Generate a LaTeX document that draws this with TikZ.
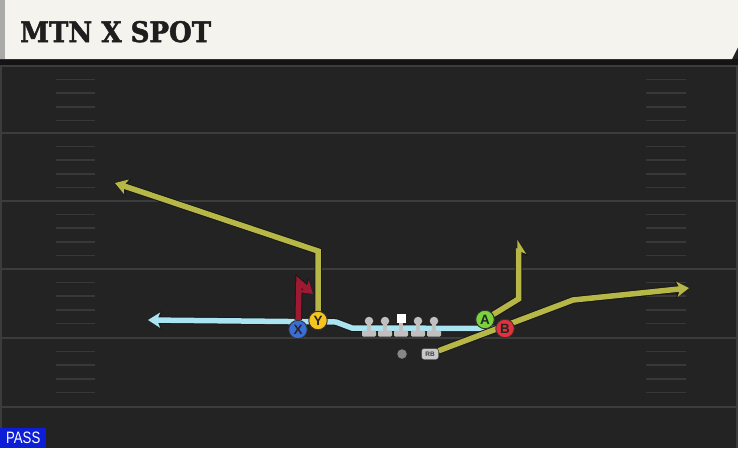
\documentclass[tikz,border=0pt]{standalone}
\usepackage{fontspec}
\usetikzlibrary{arrows.meta}
\newfontfamily\titlefont{DejaVu Serif Bold}[FakeBold=1.8]
\newfontfamily\labelfont{Liberation Sans}

\definecolor{fieldbg}{RGB}{35,35,35}
\definecolor{bandbg}{RGB}{20,20,20}
\definecolor{yardcol}{RGB}{60,60,60}
\definecolor{hashcol}{RGB}{56,56,56}
\definecolor{headerbg}{RGB}{245,243,237}
\definecolor{stripecol}{RGB}{170,170,168}
\definecolor{titleink}{RGB}{30,30,30}
\definecolor{routeolive}{RGB}{183,183,72}
\definecolor{routered}{RGB}{158,26,50}
\definecolor{motionblue}{RGB}{170,228,240}
\definecolor{xblue}{RGB}{58,110,214}
\definecolor{yyellow}{RGB}{247,196,30}
\definecolor{agreen}{RGB}{122,210,60}
\definecolor{bred}{RGB}{226,50,62}
\definecolor{linegrey}{RGB}{192,192,192}
\definecolor{qbgrey}{RGB}{135,135,135}
\definecolor{rbgrey}{RGB}{200,200,200}
\definecolor{passblue}{RGB}{12,30,214}

\pgfdeclarelayer{field}
\pgfdeclarelayer{routes}
\pgfsetlayers{field,routes,main}

\tikzset{
	player/.style={circle, draw=black!80, line width=0.9pt, fill=#1, minimum size=18.5pt, inner sep=0pt,
		font=\labelfont\bfseries\fontsize{13.5}{13.5}\selectfont, text=black!85},
	route/.style 2 args={draw=#1, line width=5.5pt, line join=miter,
		preaction={draw=black!90, line width=7.5pt, -{Stealth[length=14pt,width=18pt,inset=3.5pt,#2]}},
		-{Stealth[length=12pt,width=15pt,inset=3pt,#2]}},
	lineman/.style={circle, fill=linegrey, minimum size=8.5pt, inner sep=0pt},
	yardline/.style={draw=yardcol, line width=2pt},
	hashline/.style={draw=hashcol, line width=1.6pt},
}

\begin{document}
\begin{tikzpicture}[x=1pt, y=-1pt]
	\useasboundingbox (0,0) rectangle (738,448);

	\begin{pgfonlayer}{field}
		\fill[fieldbg] (0,0) rectangle (738,448);
		\fill[bandbg] (0,59) rectangle (738,65);
		\draw[yardcol, line width=1.5pt] (1,65) -- (1,448);
		\draw[yardcol, line width=1.5pt] (737,65) -- (737,448);
		\foreach \yl in {66,133,201,269,338,407}
			\draw[yardline] (2,\yl) -- (736,\yl);
		\foreach \top in {66,133,201,269,338}
			\foreach \k in {1,...,4} {
				\draw[hashline] (56,{\top+13.6*\k}) -- (95,{\top+13.6*\k});
				\draw[hashline] (646,{\top+13.6*\k}) -- (686,{\top+13.6*\k});
			}
		\fill[headerbg] (0,0) -- (738,0) -- (738,47) -- (732,59) -- (0,59) -- cycle;
		\fill[stripecol] (0,0) rectangle (4.5,59);
	\end{pgfonlayer}

	\node[anchor=base west, inner sep=0pt, text=titleink,
		font=\titlefont\fontsize{29}{29}\selectfont] (title) at (20,42) {\resizebox{191pt}{21pt}{MTN X SPOT}};

	\foreach \name/\x in {lt/369,lg/385,rg/418,rt/434} {
		\fill[linegrey] (\x-2.2,323) rectangle (\x+2.2,332);
		\fill[linegrey, rounded corners=1.2pt] (\x-7,330.5) rectangle (\x+7,336.5);
		\node[lineman] (\name) at (\x,321) {};
	}
	\fill[linegrey] (398.8,322) rectangle (403.2,332);
	\fill[linegrey, rounded corners=1.2pt] (394,330.5) rectangle (408,336.5);
	\node[fill=white, minimum size=9pt, inner sep=0pt] (c) at (401,318.5) {};

	\node[circle, fill=qbgrey, minimum size=9.5pt, inner sep=0pt] (qb) at (402,354) {};
	\node[draw=black!80, fill=rbgrey, rounded corners=2.5pt, minimum width=17pt, minimum height=11pt, inner sep=0pt,
		font=\labelfont\bfseries\fontsize{6.5}{6.5}\selectfont, text=black!75] (rb) at (430,354) {RB};

	\node[player=xblue] (x) at (298,329.5) {X};
	\node[player=yyellow] (y) at (318,320.5) {Y};
	\node[player=agreen] (a) at (485,319.5) {A};
	\node[player=bred] (b) at (505,328.5) {B};

	\coordinate (ycut) at (318,251);
	\coordinate (yend) at (115,183);
	\coordinate (xcut) at (299,282);
	\coordinate (xend) at (313,294);
	\coordinate (acut) at (518.5,299);
	\coordinate (aend) at (518.5,240);
	\coordinate (bcut) at (573,300);
	\coordinate (bend) at (689,288);
	\coordinate (mlow) at (352,328);
	\coordinate (mrise) at (336,322);
	\coordinate (mend) at (148,320);

	\begin{pgfonlayer}{routes}
		\draw[route={motionblue}{}] (b) -- (mlow) -- (mrise) -- (mend);
		\draw[route={routeolive}{}] (y) -- (ycut) -- (yend);
		\draw[route={routered}{}] (x) -- (xcut) -- (xend);
		\draw[route={routeolive}{harpoon,swap}] (a) -- (acut) -- (aend);
		\draw[route={routeolive}{}] (rb) -- (bcut) -- (bend);
	\end{pgfonlayer}

	\node[fill=passblue, text=white, anchor=south west, minimum width=46pt, minimum height=20pt, inner sep=0pt,
		font=\labelfont\fontsize{16.5}{16.5}\selectfont] (pass) at (0,448) {\scalebox{0.8}[1]{PASS}};
\end{tikzpicture}
\end{document}
